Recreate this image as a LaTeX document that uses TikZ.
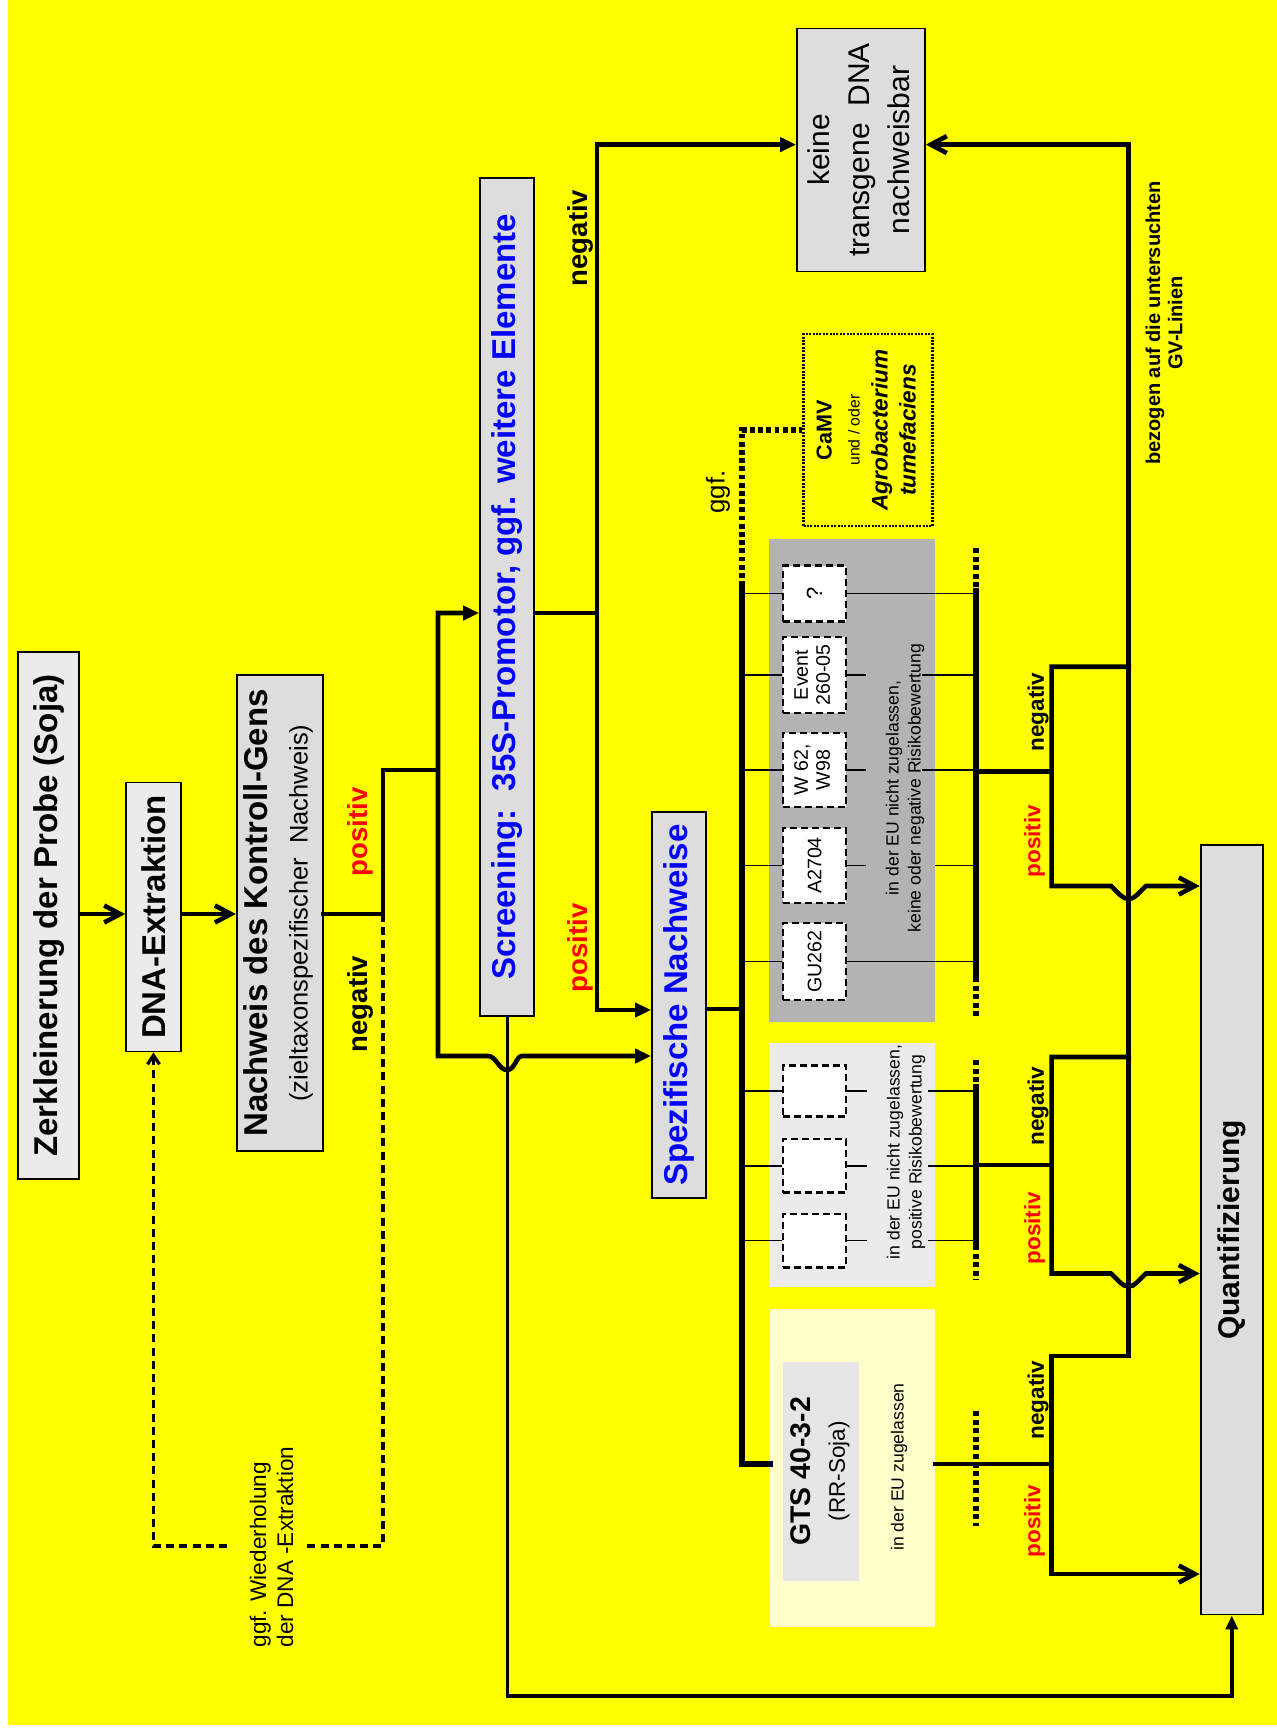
\documentclass[tikz,border=0pt]{standalone}
\usepackage{fontspec}
\setmainfont{Liberation Sans}
\usetikzlibrary{arrows.meta}
\definecolor{bgY}{HTML}{FFFF00}
\definecolor{boxA}{HTML}{EBEBEB}
\definecolor{boxB}{HTML}{DDDDDD}
\definecolor{panD}{HTML}{B3B3B3}
\definecolor{panL}{HTML}{EBEBEB}
\definecolor{panY}{HTML}{FFFFCC}
\definecolor{gtsG}{HTML}{E6E6E6}
\newcommand{\rt}[1]{\rotatebox{90}{#1}}
\newcommand{\fTitle}{\fontsize{16.5}{20}\selectfont\bfseries}
\newcommand{\fBigPN}{\fontsize{13.75}{16}\selectfont\bfseries}
\newcommand{\fSmPN}{\fontsize{11.25}{13}\selectfont\bfseries}
\newcommand{\fPanel}{\fontsize{8.8}{11}\selectfont}
\newcommand{\fEv}{\fontsize{9.8}{11}\selectfont}
\tikzset{
  box/.style={draw=black, line width=0.9pt, inner sep=0pt, fill=boxB},
  evbox/.style={draw=black, fill=white, line width=1.3pt, dash pattern=on 3.5pt off 2pt, inner sep=0pt, minimum width=31.5pt, font=\fEv},
  panel/.style={inner sep=0pt, draw=none},
  thk/.style={line width=2.3pt, line cap=rect},
  vthk/.style={line width=3pt, line cap=rect},
  med/.style={line width=1.7pt},
  thinl/.style={line width=0.7pt},
  busl/.style={line width=2.8pt},
  busdot/.style={line width=3pt, dash pattern=on 2.5pt off 1.8pt},
  dotl/.style={line width=2.6pt, dash pattern=on 2.4pt off 1.7pt},
  dashl/.style={line width=1.6pt, dash pattern=on 4pt off 2.6pt},
  lbl/.style={inner sep=0pt, rotate=90},
  poslbl/.style={lbl, text=red, font=\fBigPN},
  neglbl/.style={lbl, text=black, font=\fBigPN},
  posS/.style={lbl, text=red, font=\fSmPN},
  negS/.style={lbl, text=black, font=\fSmPN},
  barbA/.style={-{Straight Barb[length=8pt,width=8.5pt]}},
  triA/.style={-{Triangle[length=8pt,width=7pt]}},
  triB/.style={{Triangle[length=8pt,width=7pt]}-{Triangle[length=8pt,width=7pt]}}
}
\begin{document}
\begin{tikzpicture}[x=0.5pt,y=-0.5pt]
\useasboundingbox (0,0) rectangle (1277,1733);
\fill[bgY] (8,0) rectangle (1277,1725);

% panels
\node[panel, fill=panD, minimum width=83pt, minimum height=241.5pt] (pD) at (852,780.5) {};
\node[panel, fill=panL, minimum width=83pt, minimum height=121.8pt] (pL) at (852,1164.8) {};
\node[panel, fill=panY, minimum width=82.5pt, minimum height=159.4pt] (pY) at (852.5,1468) {};
\node[panel, fill=gtsG, minimum width=38pt, minimum height=109.3pt] (gts) at (820.8,1471.3)
  {\rt{\fontsize{12}{17.25}\selectfont\begin{tabular}{@{}c@{}}{\fontsize{14.2}{17}\selectfont\bfseries GTS 40-3-2}\\{\fontsize{11.25}{13}\selectfont (RR-Soja)}\end{tabular}}};

% main boxes
\node[box, fill=boxA, minimum width=30.5pt, minimum height=263.5pt] (zerk) at (48.8,915.5)
  {\rt{\fTitle Zerkleinerung der Probe (Soja)}};
\node[box, fill=boxA, minimum width=27.5pt, minimum height=134.5pt] (dna) at (153.5,917)
  {\rt{\fTitle DNA-Extraktion}};
\node[box, minimum width=43pt, minimum height=238pt] (nach) at (279.7,913)
  {\rt{\fontsize{12}{20}\selectfont\begin{tabular}{@{}c@{}}{\fTitle Nachweis des Kontroll-Gens}\\{\fontsize{12.75}{15}\selectfont (zieltaxonspezifischer\ \ Nachweis)}\end{tabular}}};
\node[box, minimum width=27.15pt, minimum height=419pt] (scr) at (507.2,597)
  {\rt{\fTitle\color{blue}Screening:\ \ 35S-Promotor, ggf. weitere Elemente}};
\node[box, minimum width=27pt, minimum height=193pt] (spez) at (679,1005)
  {\rt{\fTitle\color{blue}Spezifische Nachweise}};
\node[box, minimum width=64pt, minimum height=121.5pt] (keine) at (861,150)
  {\rt{\fontsize{15}{20}\selectfont\begin{tabular}{@{}c@{}}keine\\transgene\ \ DNA\\nachweisbar\end{tabular}}};
\node[box, minimum width=31.2pt, minimum height=384.75pt] (quant) at (1231.8,1229.8)
  {\rt{\fontsize{15}{18}\selectfont\bfseries Quantifizierung}};
\node[draw=black, fill=none, line width=1.2pt, dash pattern=on 1pt off 0.7pt, inner sep=0pt,
      minimum width=64.5pt, minimum height=95.85pt] (camv) at (868,430)
  {\rt{\fontsize{10}{14}\selectfont\begin{tabular}{@{}c@{}}{\fontsize{10.8}{13}\selectfont\bfseries CaMV}\\{\fontsize{7.9}{9}\selectfont und / oder}\\{\fontsize{11.3}{13}\selectfont\bfseries\itshape Agrobacterium}\\{\fontsize{11.3}{13}\selectfont\bfseries\itshape tumefaciens}\end{tabular}}};

% event boxes
\node[evbox, minimum height=28pt] (q) at (814.5,593.7) {\rt{\fontsize{11}{12}\selectfont ?}};
\node[evbox, minimum height=38pt] (ev) at (814.5,675) {\rt{\begin{tabular}{@{}c@{}}Event\\260-05\end{tabular}}};
\node[evbox, minimum height=37pt] (w62) at (814.5,770) {\rt{\begin{tabular}{@{}c@{}}W 62,\\W98\end{tabular}}};
\node[evbox, minimum height=37.5pt] (a27) at (814.5,865.5) {\rt{A2704}};
\node[evbox, minimum height=38.5pt] (gu) at (814.5,961.5) {\rt{GU262}};
\node[evbox, minimum height=25.75pt] (e1) at (814.5,1091) {};
\node[evbox, minimum height=26.8pt] (e2) at (814.5,1165.8) {};
\node[evbox, minimum height=26.7pt] (e3) at (814.5,1240.7) {};

% coordinates
\coordinate (r1) at (0,914);
\coordinate (k1) at (383,914);
\coordinate (k2) at (383,770);
\coordinate (b1) at (438,613);
\coordinate (b2) at (438,1056);
\coordinate (sv) at (597,613);
\coordinate (kn) at (0,144.6);
\coordinate (sp) at (0,1010);
\coordinate (bl) at (0,1696);
\coordinate (mv) at (742,1009);
\coordinate (gy) at (0,1464);
\coordinate (bx) at (976,0);

% first chain
\draw[thk, barbA] (zerk.east |- r1) -- (dna.west |- r1);
\draw[thk, barbA] (dna.east |- r1) -- (nach.west |- r1);
\draw[thk] (nach.east |- r1) -- (k1) -- (k2) -- (k2 -| b1);
\draw[thk, triB] (scr.west |- b1) -- (b1) -- (b2) -- (488,1056)
  .. controls (496,1056) and (499,1070) .. (507,1070)
  .. controls (515,1070) and (516,1056) .. (522,1056) -- (spez.west |- b2);

% screening outputs
\draw[thk] (scr.east |- sv) -- (sv);
\draw[thk, triB] (keine.west |- kn) -- (sv |- kn) -- (sv |- sp) -- (spez.west |- sp);
\draw[med, -{Triangle[length=7pt,width=6pt]}] (scr.south) -- (scr.south |- bl) -- (quant.south |- bl) -- (quant.south);

% spezifische -> main vertical
\draw[thk] (spez.east |- mv) -- (mv);
\draw[vthk] (742,586) -- (742,1464) -- (pY.west |- gy);
\draw[dotl] (742,586) -- (742,430) -- (camv.west);

% thin lines to event boxes
\foreach \n in {q,ev,w62,a27,gu,e1,e2,e3} \draw[thinl] (\n.west -| mv) -- (\n.west);
\draw[thinl] (q.east) -- (q.east -| bx);
\draw[thinl] (gu.east) -- (gu.east -| bx);
\foreach \n in {ev,w62} {\draw[thinl] (\n.east) -- ++(19,0); \draw[thinl] (\n.east -| 921.5,0) -- (\n.east -| bx);}
\draw[thinl] (a27.east) -- ++(19,0); \draw[thinl] (a27.east -| 935,0) -- (a27.east -| bx);
\foreach \n in {e1,e2,e3} {\draw[thinl] (\n.east) -- ++(20,0); \draw[thinl] (\n.east -| 928,0) -- (\n.east -| bx);}

% bus dark panel
\draw[busl] (976,588) -- (976,977);
\draw[busdot] (976,548) -- (976,588);
\draw[busdot] (976,977) -- (976,1017);
\draw[thk] (976,771.7) -- (1051.6,771.7);
\draw[thk, barbA] (1128.7,666.7) -- (1051.6,666.7) -- (1051.6,886) -- (1111,886)
  .. controls (1119,893) and (1122,899) .. (1128.7,899)
  .. controls (1135,899) and (1138,893) .. (1146,886) -- (quant.west |- 0,886);

% bus light panel
\draw[busl] (976,1084) -- (976,1245);
\draw[busdot] (976,1060) -- (976,1084);
\draw[busdot] (976,1245) -- (976,1280);
\draw[thk] (976,1165) -- (1051.6,1165);
\draw[thk, barbA] (1128.7,1057) -- (1051.6,1057) -- (1051.6,1273.5) -- (1111,1273.5)
  .. controls (1119,1280.5) and (1122,1286.5) .. (1128.7,1286.5)
  .. controls (1135,1286.5) and (1138,1280.5) .. (1146,1273.5) -- (quant.west |- 0,1273.5);

% pale panel
\draw[busdot] (976,1411) -- (976,1526);
\draw[thk] (pY.east |- gy) -- (1051.6,1464);
\draw[thk, barbA] (1128.7,1356) -- (1051.6,1356) -- (1051.6,1574) -- (quant.west |- 0,1574);

% main right vertical
\draw[thk, barbA] (1128.7,1356) -- (1128.7,144.6) -- (keine.east |- kn);

% dashed repeat loop
\draw[dashl] (k1) -- (383,1546) -- (307,1546);
\draw[dashl, -{Straight Barb[length=4.5pt,width=6pt]}] (227,1546) -- (153.5,1546) -- (dna.south);

% labels
\node[poslbl] (l1) at (360,832) {positiv};
\node[neglbl] (l2) at (360,1004) {negativ};
\node[neglbl] (l3) at (580,238) {negativ};
\node[poslbl] (l4) at (580,948) {positiv};
\node[negS] (l5) at (1038,712) {negativ};
\node[posS] (l6) at (1034.5,841) {positiv};
\node[negS] (l7) at (1038,1106) {negativ};
\node[posS] (l8) at (1034.5,1228) {positiv};
\node[negS] (l9) at (1038,1400) {negativ};
\node[posS] (l10) at (1034.5,1521) {positiv};
\node[lbl, font=\fontsize{12.9}{15}\selectfont] (ggf) at (718,492) {ggf.};
\node[lbl, align=left, font=\fontsize{11.3}{13.5}\selectfont] (wdh) at (271.5,1547) {ggf. Wiederholung\\der DNA -Extraktion};
\node[lbl, align=center, font=\fPanel] (tD) at (905,788) {in der EU nicht zugelassen,\\keine oder negative Risikobewertung};
\node[lbl, align=center, font=\fPanel] (tL) at (906,1152) {in der EU nicht zugelassen,\\positive Risikobewertung};
\node[lbl, font=\fPanel] (tY) at (899,1467) {in der EU zugelassen};
\node[lbl, align=center, font=\fontsize{10}{11.15}\selectfont\bfseries] (bez) at (1164,323) {bezogen auf die untersuchten\\GV-Linien};
\end{tikzpicture}
\end{document}
